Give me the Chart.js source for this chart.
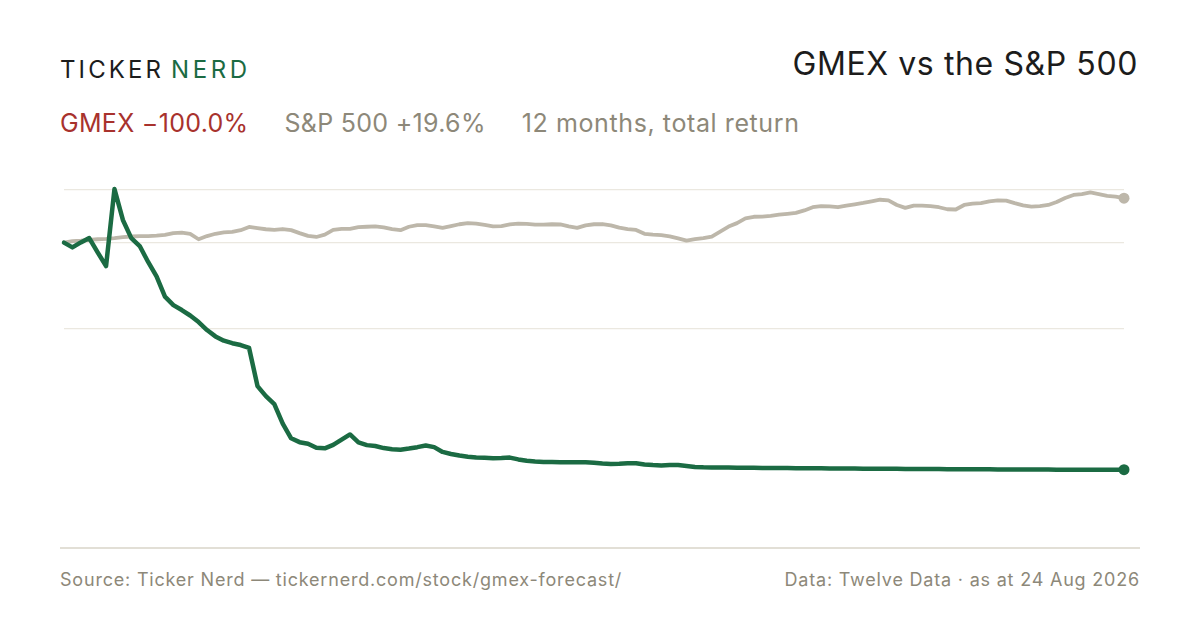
<!DOCTYPE html>
<html>
<head>
<meta charset="utf-8">
<title>GMEX vs the S&amp;P 500</title>
<script src="https://cdn.jsdelivr.net/npm/chart.js@4.4.1/dist/chart.umd.min.js"></script>
<style>
    html, body { margin: 0; padding: 0; background: #fff; }
    body { width: 1200px; height: 630px; position: relative; overflow: hidden; font-family: 'Inter', 'Noto Sans', sans-serif; }
    .logo { position: absolute; left: 60px; top: 57.5px; font-size: 24px; letter-spacing: 3.1px; color: #1c1c1c; line-height: 1; }
    .logo .nerd { color: #1b6b43; margin-left: 7px; letter-spacing: 3.6px; }
    .title { position: absolute; right: 62px; top: 48px; font-size: 32px; letter-spacing: 0.6px; color: #1c1c1c; line-height: 1; }
    .sub { position: absolute; left: 60px; top: 111px; font-size: 25px; letter-spacing: 0.3px; line-height: 1; color: #8d8879; white-space: nowrap; }
    .sub span { margin-right: 36px; }
    .sub .gmex { color: #a8322d; }
    .sub .period { letter-spacing: 0.6px; }
    .chart-wrap { position: absolute; left: 60px; top: 170px; width: 1076px; height: 370px; }
    .rule { position: absolute; left: 60px; top: 547px; width: 1080px; height: 2px; background: #e2dfd6; }
    .foot { position: absolute; top: 571px; font-size: 18px; letter-spacing: 0.8px; color: #8d8879; line-height: 1; white-space: nowrap; }
    .foot.left { left: 60px; }
    .foot.right { right: 60px; }
</style>
</head>
<body>
<div class="logo">TICKER<span class="nerd">NERD</span></div>
<div class="title">GMEX vs the S&amp;P 500</div>
<div class="sub"><span class="gmex">GMEX −100.0%</span><span>S&amp;P 500 +19.6%</span><span class="period">12 months, total return</span></div>
<div class="chart-wrap"><canvas id="chart"></canvas></div>
<div class="rule"></div>
<div class="foot left">Source: Ticker Nerd — tickernerd.com/stock/gmex-forecast/</div>
<div class="foot right">Data: Twelve Data · as at 24 Aug 2026</div>

<script>
// Total return (%) sampled every ~2 trading days over 12 months
const GMEX = [
    0.0, -2.1, 0.1, 2.0, -4.3, -10.3, 23.6, 10.0, 2.0, -1.5,
    -8.5, -14.9, -23.8, -27.5, -29.7, -32.1, -35.0, -38.5, -41.3, -43.2,
    -44.3, -45.1, -46.4, -63.2, -67.6, -71.1, -79.7, -86.2, -87.9, -88.6,
    -90.4, -90.6, -89.1, -86.8, -84.5, -88.0, -89.2, -89.6, -90.5, -91.0,
    -91.2, -90.7, -90.1, -89.4, -90.1, -92.2, -93.1, -93.8, -94.3, -94.7,
    -94.8, -95.0, -94.9, -94.7, -95.5, -96.1, -96.4, -96.6, -96.6, -96.7,
    -96.7, -96.8, -96.8, -97.0, -97.3, -97.5, -97.4, -97.2, -97.2, -97.7,
    -98.0, -98.2, -98.0, -98.0, -98.4, -98.8, -99.0, -99.1, -99.1, -99.1,
    -99.2, -99.2, -99.2, -99.3, -99.3, -99.3, -99.3, -99.4, -99.4, -99.4,
    -99.4, -99.5, -99.5, -99.5, -99.5, -99.6, -99.6, -99.6, -99.6, -99.6,
    -99.7, -99.7, -99.7, -99.7, -99.7, -99.8, -99.8, -99.8, -99.8, -99.8,
    -99.8, -99.9, -99.9, -99.9, -99.9, -99.9, -99.9, -99.9, -100.0, -100.0,
    -100.0, -100.0, -100.0, -100.0, -100.0, -100.0, -100.0,
];

const SP500 = [
    0.0, 0.7, 0.9, 1.2, 1.5, 1.7, 2.0, 2.4, 2.7, 2.9,
    2.9, 3.1, 3.4, 4.2, 4.4, 3.9, 1.5, 2.9, 3.9, 4.5,
    4.7, 5.5, 6.9, 6.4, 5.9, 5.6, 6.0, 5.5, 4.2, 3.0,
    2.5, 3.5, 5.6, 6.1, 6.1, 6.8, 7.0, 7.2, 6.7, 6.0,
    5.5, 7.0, 7.7, 7.7, 7.2, 6.5, 7.3, 8.1, 8.6, 8.4,
    7.8, 7.2, 7.3, 8.0, 8.4, 8.3, 7.9, 7.9, 8.1, 8.0,
    7.2, 6.5, 7.6, 8.1, 8.2, 7.6, 6.6, 6.0, 5.6, 3.9,
    3.5, 3.3, 2.8, 1.9, 0.9, 1.5, 2.0, 2.7, 4.9, 7.1,
    8.6, 10.7, 11.4, 11.5, 11.8, 12.3, 12.7, 13.1, 14.2, 15.6,
    16.1, 16.0, 15.6, 16.3, 16.9, 17.5, 18.2, 18.9, 18.6, 16.6,
    15.3, 16.3, 16.3, 16.1, 15.6, 14.7, 14.6, 16.6, 17.2, 17.4,
    18.2, 18.6, 18.5, 17.4, 16.4, 15.9, 16.1, 16.6, 17.9, 19.7,
    21.0, 21.4, 22.1, 21.4, 20.6, 20.3, 19.6,
];

// Unlabelled horizontal guides
const GRID_VALUES = [23.5, 0, -38];
const Y_MIN = -131;
const Y_MAX = 32;

const LABELS = GMEX.map((_, i) => i);

const COLORS = {
    gmex: '#1b6b43',
    sp: '#bdb7aa',
    grid: '#ebe8e0',
};

// Only the last point of each series gets a dot
function endDot(n, r) {
    return Array.from({ length: n }, (_, i) => (i === n - 1 ? r : 0));
}

new Chart(document.getElementById('chart'), {
    type: 'line',
    data: {
        labels: LABELS,
        datasets: [
            {
                label: 'GMEX',
                data: GMEX,
                borderColor: COLORS.gmex,
                backgroundColor: COLORS.gmex,
                borderWidth: 4.5,
                pointRadius: endDot(GMEX.length, 5.5),
                pointBorderWidth: 0,
                tension: 0,
                borderJoinStyle: 'round',
                borderCapStyle: 'round',
                clip: false,
            },
            {
                label: 'S&P 500',
                data: SP500,
                borderColor: COLORS.sp,
                backgroundColor: COLORS.sp,
                borderWidth: 3.8,
                pointRadius: endDot(SP500.length, 5.5),
                pointBorderWidth: 0,
                tension: 0,
                borderJoinStyle: 'round',
                borderCapStyle: 'round',
                clip: false,
                order: 1,
            },
        ],
    },
    options: {
        responsive: true,
        maintainAspectRatio: false,
        animation: false,
        // chart area runs x 64..1124 on the page; extra room on the right for the end dots
        layout: { padding: { left: 4, right: 12, top: 0, bottom: 0 }, autoPadding: false },
        plugins: { legend: { display: false }, tooltip: { enabled: false } },
        scales: {
            x: { display: false, offset: false },
            y: {
                min: Y_MIN,
                max: Y_MAX,
                border: { display: false },
                grid: { color: COLORS.grid, lineWidth: 1.2, drawTicks: false },
                ticks: { display: false },
                afterBuildTicks: scale => { scale.ticks = GRID_VALUES.map(v => ({ value: v })); },
                afterFit: scale => { scale.width = 0; },
            },
        },
    },
});
</script>
</body>
</html>
